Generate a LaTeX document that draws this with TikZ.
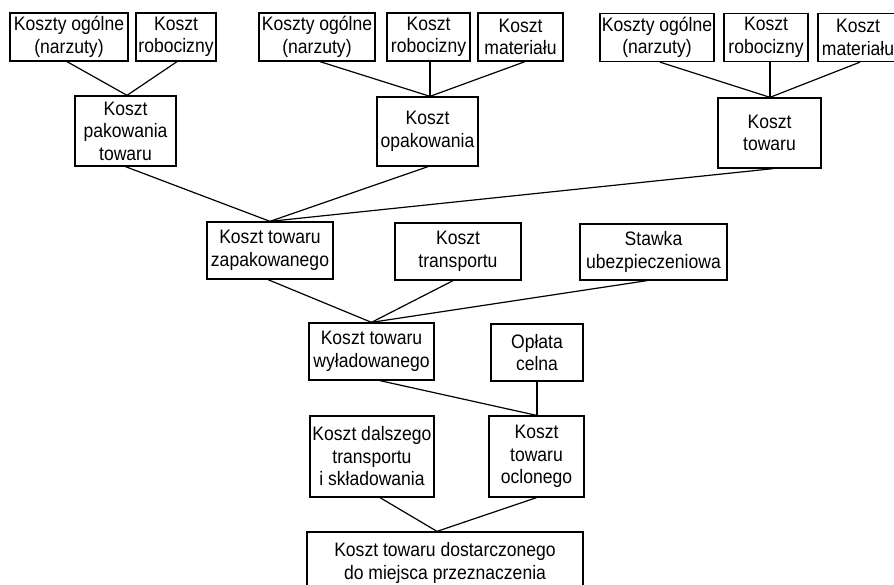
\documentclass[tikz,border=0pt]{standalone}
\usepackage{fontspec}
\setmainfont{Liberation Sans}[FakeStretch=0.9]
\begin{document}
\begin{tikzpicture}[x=1pt,y=-1pt,
  box/.style={draw=black,line width=1.3pt,fill=white,inner sep=0pt,align=center,
    font=\fontsize{19.5}{22.5}\selectfont},
  conn/.style={draw=black,line width=1.2pt}]
\useasboundingbox (0,0) rectangle (894,585);
\clip (0,0) rectangle (894,585);
\fill[white] (0,0) rectangle (894,585);
% row 1
\node[box,minimum width=118pt,minimum height=48pt] (a1) at (69,37) {Koszty ogólne\\(narzuty)};
\node[box,minimum width=80pt,minimum height=48pt] (a2) at (176,37) {Koszt\\robocizny};
\node[box,minimum width=116pt,minimum height=48pt] (b1) at (317,37) {Koszty ogólne\\(narzuty)};
\node[box,minimum width=83pt,minimum height=48pt] (b2) at (428.5,37) {Koszt\\robocizny};
\node[box,minimum width=85pt,minimum height=48pt] (b3) at (520.5,37) {Koszt\\materiału};
\node[box,minimum width=114pt,minimum height=48pt] (c1) at (657,37.5) {Koszty ogólne\\(narzuty)};
\node[box,minimum width=84pt,minimum height=48pt] (c2) at (766,37.5) {Koszt\\robocizny};
\node[box,minimum width=80pt,minimum height=48pt] (c3) at (858,37.5) {Koszt\\materiału};
% row 2
\node[box,minimum width=101pt,minimum height=70pt] (A) at (125.5,131) {Koszt\\pakowania\\towaru};
\node[box,minimum width=101pt,minimum height=69pt] (B) at (427.5,131.5) {Koszt\\opakowania};
\node[box,minimum width=103pt,minimum height=70pt] (C) at (769.5,133) {Koszt\\towaru};
% row 3
\node[box,minimum width=126pt,minimum height=57pt] (D) at (270,250.5) {Koszt towaru\\zapakowanego};
\node[box,minimum width=126pt,minimum height=57pt] (E) at (458,251.5) {Koszt\\transportu};
\node[box,minimum width=147pt,minimum height=56pt] (F) at (653.5,252) {Stawka\\ubezpieczeniowa};
% row 4
\node[box,minimum width=125pt,minimum height=57pt] (G) at (371.5,351.5) {Koszt towaru\\wyładowanego};
\node[box,minimum width=92pt,minimum height=57pt] (H) at (537,352.5) {Opłata\\celna};
% row 5
\node[box,minimum width=124pt,minimum height=81pt] (I) at (372,456.5) {Koszt dalszego\\transportu\\i składowania};
\node[box,minimum width=95pt,minimum height=81pt] (J) at (536.5,456.5) {Koszt\\towaru\\oclonego};
% row 6
\node[box,minimum width=276pt,minimum height=62pt] (K) at (445,563) {Koszt towaru dostarczonego\\do miejsca przeznaczenia};
% connectors
\draw[conn] ([xshift=-2pt]a1.south) -- ([xshift=1.5pt]A.north);
\draw[conn] ([xshift=1pt]a2.south) -- ([xshift=1.5pt]A.north);
\draw[conn] ([xshift=3pt]b1.south) -- ([xshift=2.5pt]B.north);
\draw[conn] ([xshift=1.5pt]b2.south) -- ([xshift=2.5pt]B.north);
\draw[conn] ([xshift=4.5pt]b3.south) -- ([xshift=2.5pt]B.north);
\draw[conn] ([xshift=3pt]c1.south) -- ([xshift=0.5pt]C.north);
\draw[conn] ([xshift=4pt]c2.south) -- ([xshift=4pt]c2.south |- C.north);
\draw[conn] ([xshift=2pt]c3.south) -- ([xshift=0.5pt]C.north);
\draw[conn] (A.south) -- (D.north);
\draw[conn] ([xshift=0.5pt]B.south) -- (D.north);
\draw[conn] ([xshift=3.5pt]C.south) -- (D.north);
\draw[conn] ([xshift=-2pt]D.south) -- (G.north);
\draw[conn] ([xshift=-5pt]E.south) -- (G.north);
\draw[conn] ([xshift=-6.5pt]F.south) -- (G.north);
\draw[conn] ([xshift=8.5pt]G.south) -- (J.north);
\draw[conn] (H.south) -- (H.south |- J.north);
\draw[conn] ([xshift=8pt]I.south) -- ([xshift=-8pt]K.north);
\draw[conn] (J.south) -- ([xshift=-8pt]K.north);
\end{tikzpicture}
\end{document}
